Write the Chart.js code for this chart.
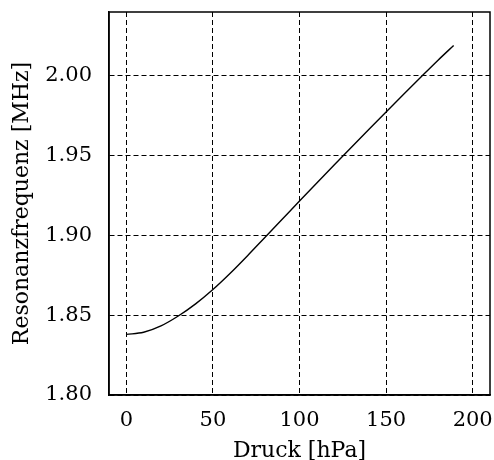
<!DOCTYPE html>
<html>
<head>
<meta charset="utf-8">
<script src="https://cdn.jsdelivr.net/npm/chart.js@4/dist/chart.umd.min.js"></script>
<style>
  html, body { margin: 0; padding: 0; background: #fff; }
  #wrap { width: 494px; height: 460px; }
</style>
</head>
<body>
<div id="wrap"><canvas id="grafica"></canvas></div>
<script>
// Datos
const druck = [0, 10, 20, 30, 40, 50, 60, 70, 80, 90, 100, 110, 120, 130, 140, 150, 160, 170, 180, 189];
const frecuencia = [1.8380, 1.8393, 1.8433, 1.8495, 1.8571, 1.8661, 1.8763, 1.8873, 1.8987, 1.9101, 1.9215,
                    1.9328, 1.9441, 1.9553, 1.9664, 1.9774, 1.9883, 1.9991, 2.0098, 2.0190];
const ticksX = [0, 50, 100, 150, 200];
const ticksY = [1.80, 1.85, 1.90, 1.95, 2.00];

const fuente = "'DejaVu Serif', 'Liberation Serif', serif";

// caja completa alrededor del area del grafico
const marco = {
    id: 'marco',
    afterDatasetsDraw(chart) {
        const a = chart.chartArea;
        const ctx = chart.ctx;
        ctx.save();
        ctx.strokeStyle = '#000';
        ctx.lineWidth = 1.5;
        ctx.strokeRect(a.left, a.top, a.right - a.left, a.bottom - a.top);
        ctx.restore();
    }
};

new Chart(document.getElementById('grafica'), {
    type: 'line',
    data: {
        datasets: [{
            data: druck.map((x, i) => ({ x: x, y: frecuencia[i] })),
            borderColor: '#000',
            borderWidth: 1.4,
            pointRadius: 0,
            cubicInterpolationMode: 'monotone',
            fill: false
        }]
    },
    options: {
        responsive: true,
        maintainAspectRatio: false,
        animation: false,
        layout: { padding: { top: 12, right: 4, left: 9, bottom: 0 } },
        plugins: { legend: { display: false }, tooltip: { enabled: false } },
        scales: {
            x: {
                type: 'linear',
                min: -10,
                max: 210,
                afterBuildTicks: (eje) => { eje.ticks = ticksX.map(v => ({ value: v })); },
                // fijamos el alto del eje para controlar el area del grafico
                afterFit: (eje) => { eje.height = 65; eje.paddingLeft = 0; eje.paddingRight = 0; },
                grid: { color: '#000', lineWidth: 1, drawTicks: false },
                border: { display: true, color: '#000', width: 1.5, dash: [5, 3] },
                ticks: { color: '#000', font: { family: fuente, size: 21 }, padding: 13 },
                title: { display: true, text: 'Druck [hPa]', color: '#000',
                         font: { family: fuente, size: 22 }, padding: { top: 0, bottom: -4 } }
            },
            y: {
                min: 1.80,
                max: 2.04,
                afterBuildTicks: (eje) => { eje.ticks = ticksY.map(v => ({ value: v })); },
                afterFit: (eje) => { eje.width = 100; eje.paddingTop = 0; eje.paddingBottom = 0; },
                grid: { color: '#000', lineWidth: 1, drawTicks: false },
                border: { display: true, color: '#000', width: 1.5, dash: [5, 3] },
                ticks: { color: '#000', font: { family: fuente, size: 21 }, padding: 17,
                         callback: (v) => v.toFixed(2) },
                title: { display: true, text: 'Resonanzfrequenz [MHz]', color: '#000',
                         font: { family: fuente, size: 22 }, padding: { top: 0, bottom: 0 } }
            }
        }
    },
    plugins: [marco]
});
</script>
</body>
</html>
